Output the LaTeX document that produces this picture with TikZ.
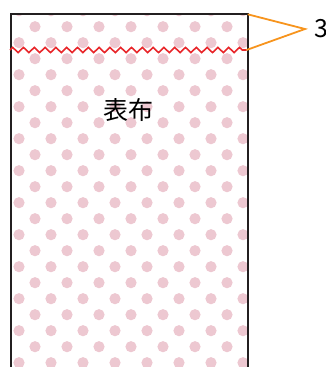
\documentclass[tikz,border=0pt]{standalone}
\usepackage{fontspec}
\setmainfont{Noto Sans CJK JP}
\usepackage{xcolor}
\usetikzlibrary{decorations.pathmorphing}

\definecolor{dotpink}{RGB}{237,200,209}
\definecolor{seamred}{RGB}{232,38,42}
\definecolor{measureorange}{RGB}{247,148,29}
\definecolor{framegray}{RGB}{35,31,32}

\begin{document}
\begin{tikzpicture}[
    x=1pt, y=-1pt,
    dot/.style={fill=dotpink},
    frame/.style={draw=framegray, line width=2.3pt},
    seam/.style={draw=seamred, line width=1.6pt, decorate, decoration={zigzag, segment length=10.8pt, amplitude=2.6pt}},
    measure/.style={draw=measureorange, line width=1.8pt},
    label/.style={font=\fontsize{25}{30}\selectfont, inner sep=0pt}
]
\useasboundingbox (0,0) rectangle (326,367);

% 水玉模様
\begin{scope}
\clip (11,14.3) rectangle (247.7,370);
\foreach \k [evaluate=\k as \xs using {19+16*mod(\k,2)}] in {0,...,22}
  \foreach \j in {0,...,7}
    \fill[dot] (\xs+32*\j, 10.7+16*\k) circle (5.6pt);
\end{scope}

% 布の輪郭
\coordinate (bottomleft) at (11,370);
\coordinate (topleft) at (11,14.3);
\coordinate (topright) at (247.7,14.3);
\coordinate (bottomright) at (247.7,370);
\draw[frame] (bottomleft) -- (topleft) -- (topright) -- (bottomright);

% 縫い代の線
\coordinate (seamleft) at (10,50);
\coordinate (seamright) at (246.5,50);
\draw[seam] (seamleft) -- (seamright);

% 寸法
\coordinate (tip) at (305,29);
\draw[measure] (topright) -- (tip) -- (seamright);
\node[label, anchor=west] (allowance) at (314,29) {3};

% 名前
\node[label] (omote) at (128.5,110) {表布};
\end{tikzpicture}
\end{document}
